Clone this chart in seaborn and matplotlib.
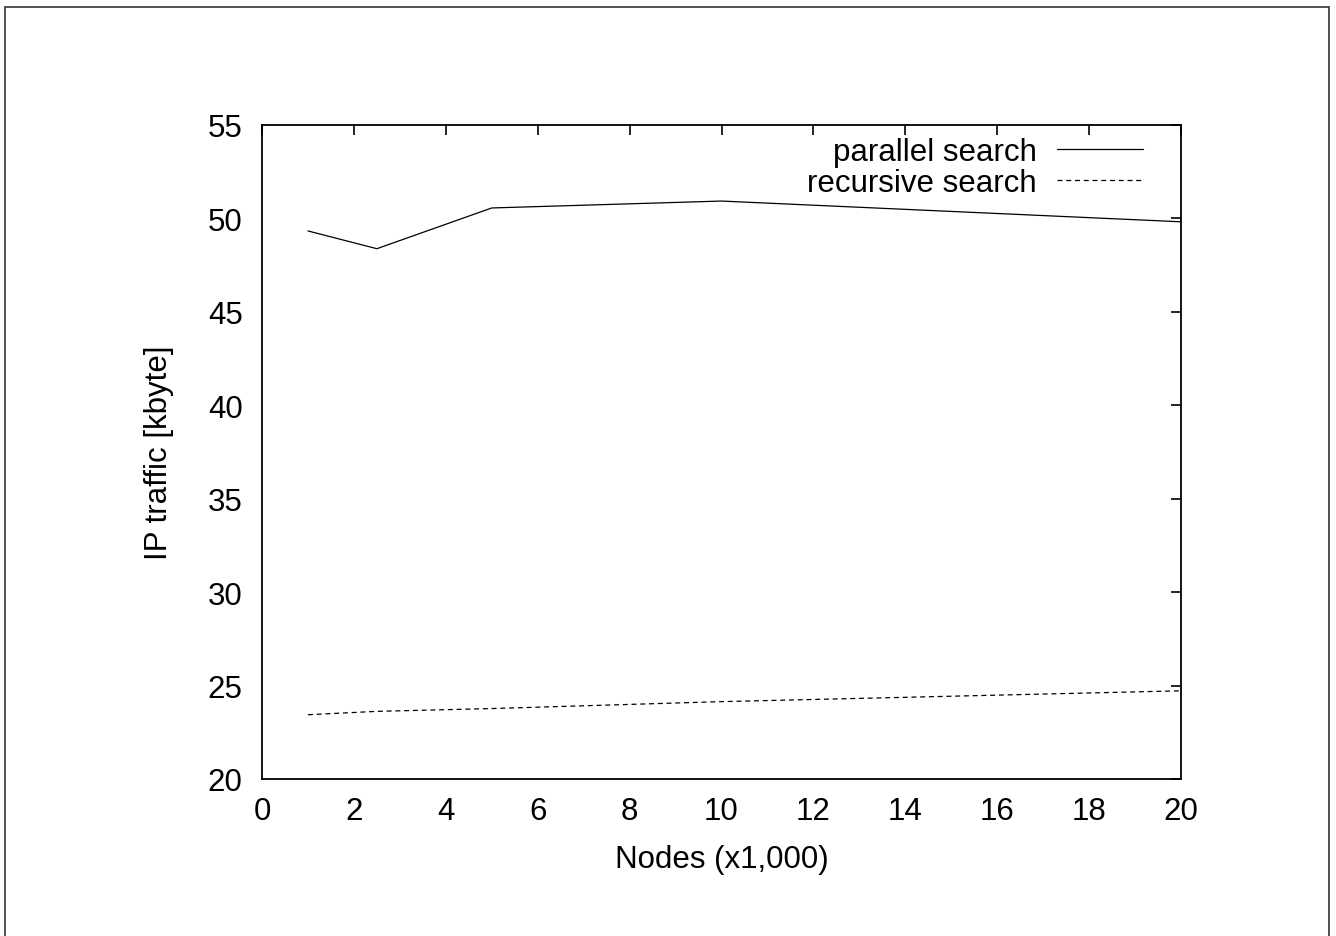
import matplotlib
matplotlib.use("Agg")
import matplotlib.pyplot as plt
from matplotlib.patches import Rectangle
import seaborn as sns
import pandas as pd

# Network size in thousands of nodes
nodes = [1, 2.5, 5, 10, 20]
# Measured IP traffic in kbyte
parallel_search = [49.33, 48.38, 50.56, 50.93, 49.82]
recursive_search = [23.44, 23.62, 23.77, 24.14, 24.72]

x_ticks = [0, 2, 4, 6, 8, 10, 12, 14, 16, 18, 20]
y_ticks = [20, 25, 30, 35, 40, 45, 50, 55]

sns.set_style("white")
plt.rcParams["font.family"] = ["Liberation Sans", "DejaVu Sans"]
plt.rcParams["text.color"] = "black"
plt.rcParams["axes.labelcolor"] = "black"

FS = 22.5
W, H = 1336, 937
fig = plt.figure(figsize=(W / 100, H / 100), dpi=100)
ax = fig.add_axes([262 / W, 1 - 780 / H, (1181 - 262) / W, (780 - 126) / H])

df = pd.DataFrame({"nodes": nodes, "parallel": parallel_search, "recursive": recursive_search})
sns.lineplot(data=df, x="nodes", y="parallel", ax=ax, color="black", lw=0.9,
             label="parallel search")
sns.lineplot(data=df, x="nodes", y="recursive", ax=ax, color="black", lw=0.9,
             linestyle=(0, (4, 3)), label="recursive search")

ax.set_xlim(0, 20)
ax.set_ylim(20, 55)
ax.set_xticks(x_ticks)
ax.set_yticks(y_ticks)
ax.tick_params(direction="in", length=7, width=1.2, top=True, right=True,
               labelsize=FS, colors="black")
ax.tick_params(axis="x", pad=12)
ax.tick_params(axis="y", pad=14)
for s in ax.spines.values():
    s.set_color("black")
    s.set_linewidth(1.3)

ax.set_xlabel("Nodes (x1,000)", fontsize=FS, labelpad=13, color="black")
ax.set_ylabel("IP traffic [kbyte]", fontsize=FS, labelpad=24, color="black")

leg = ax.legend(loc="upper right", frameon=False, fontsize=FS, markerfirst=False,
                handlelength=2.75, handletextpad=0.65, labelspacing=0.02,
                borderaxespad=0, borderpad=0,
                bbox_to_anchor=((1143 - 262) / 919, (780 - 138) / 654))
for t in leg.get_texts():
    t.set_color("black")

# Outer frame around the figure
fig.add_artist(Rectangle((5 / W, -0.02), (1329 - 5) / W, 1 - 8 / H + 0.02,
                         transform=fig.transFigure, fill=False,
                         edgecolor="#333333", lw=1.2))

fig.savefig("out.png", dpi=100, facecolor="white")
